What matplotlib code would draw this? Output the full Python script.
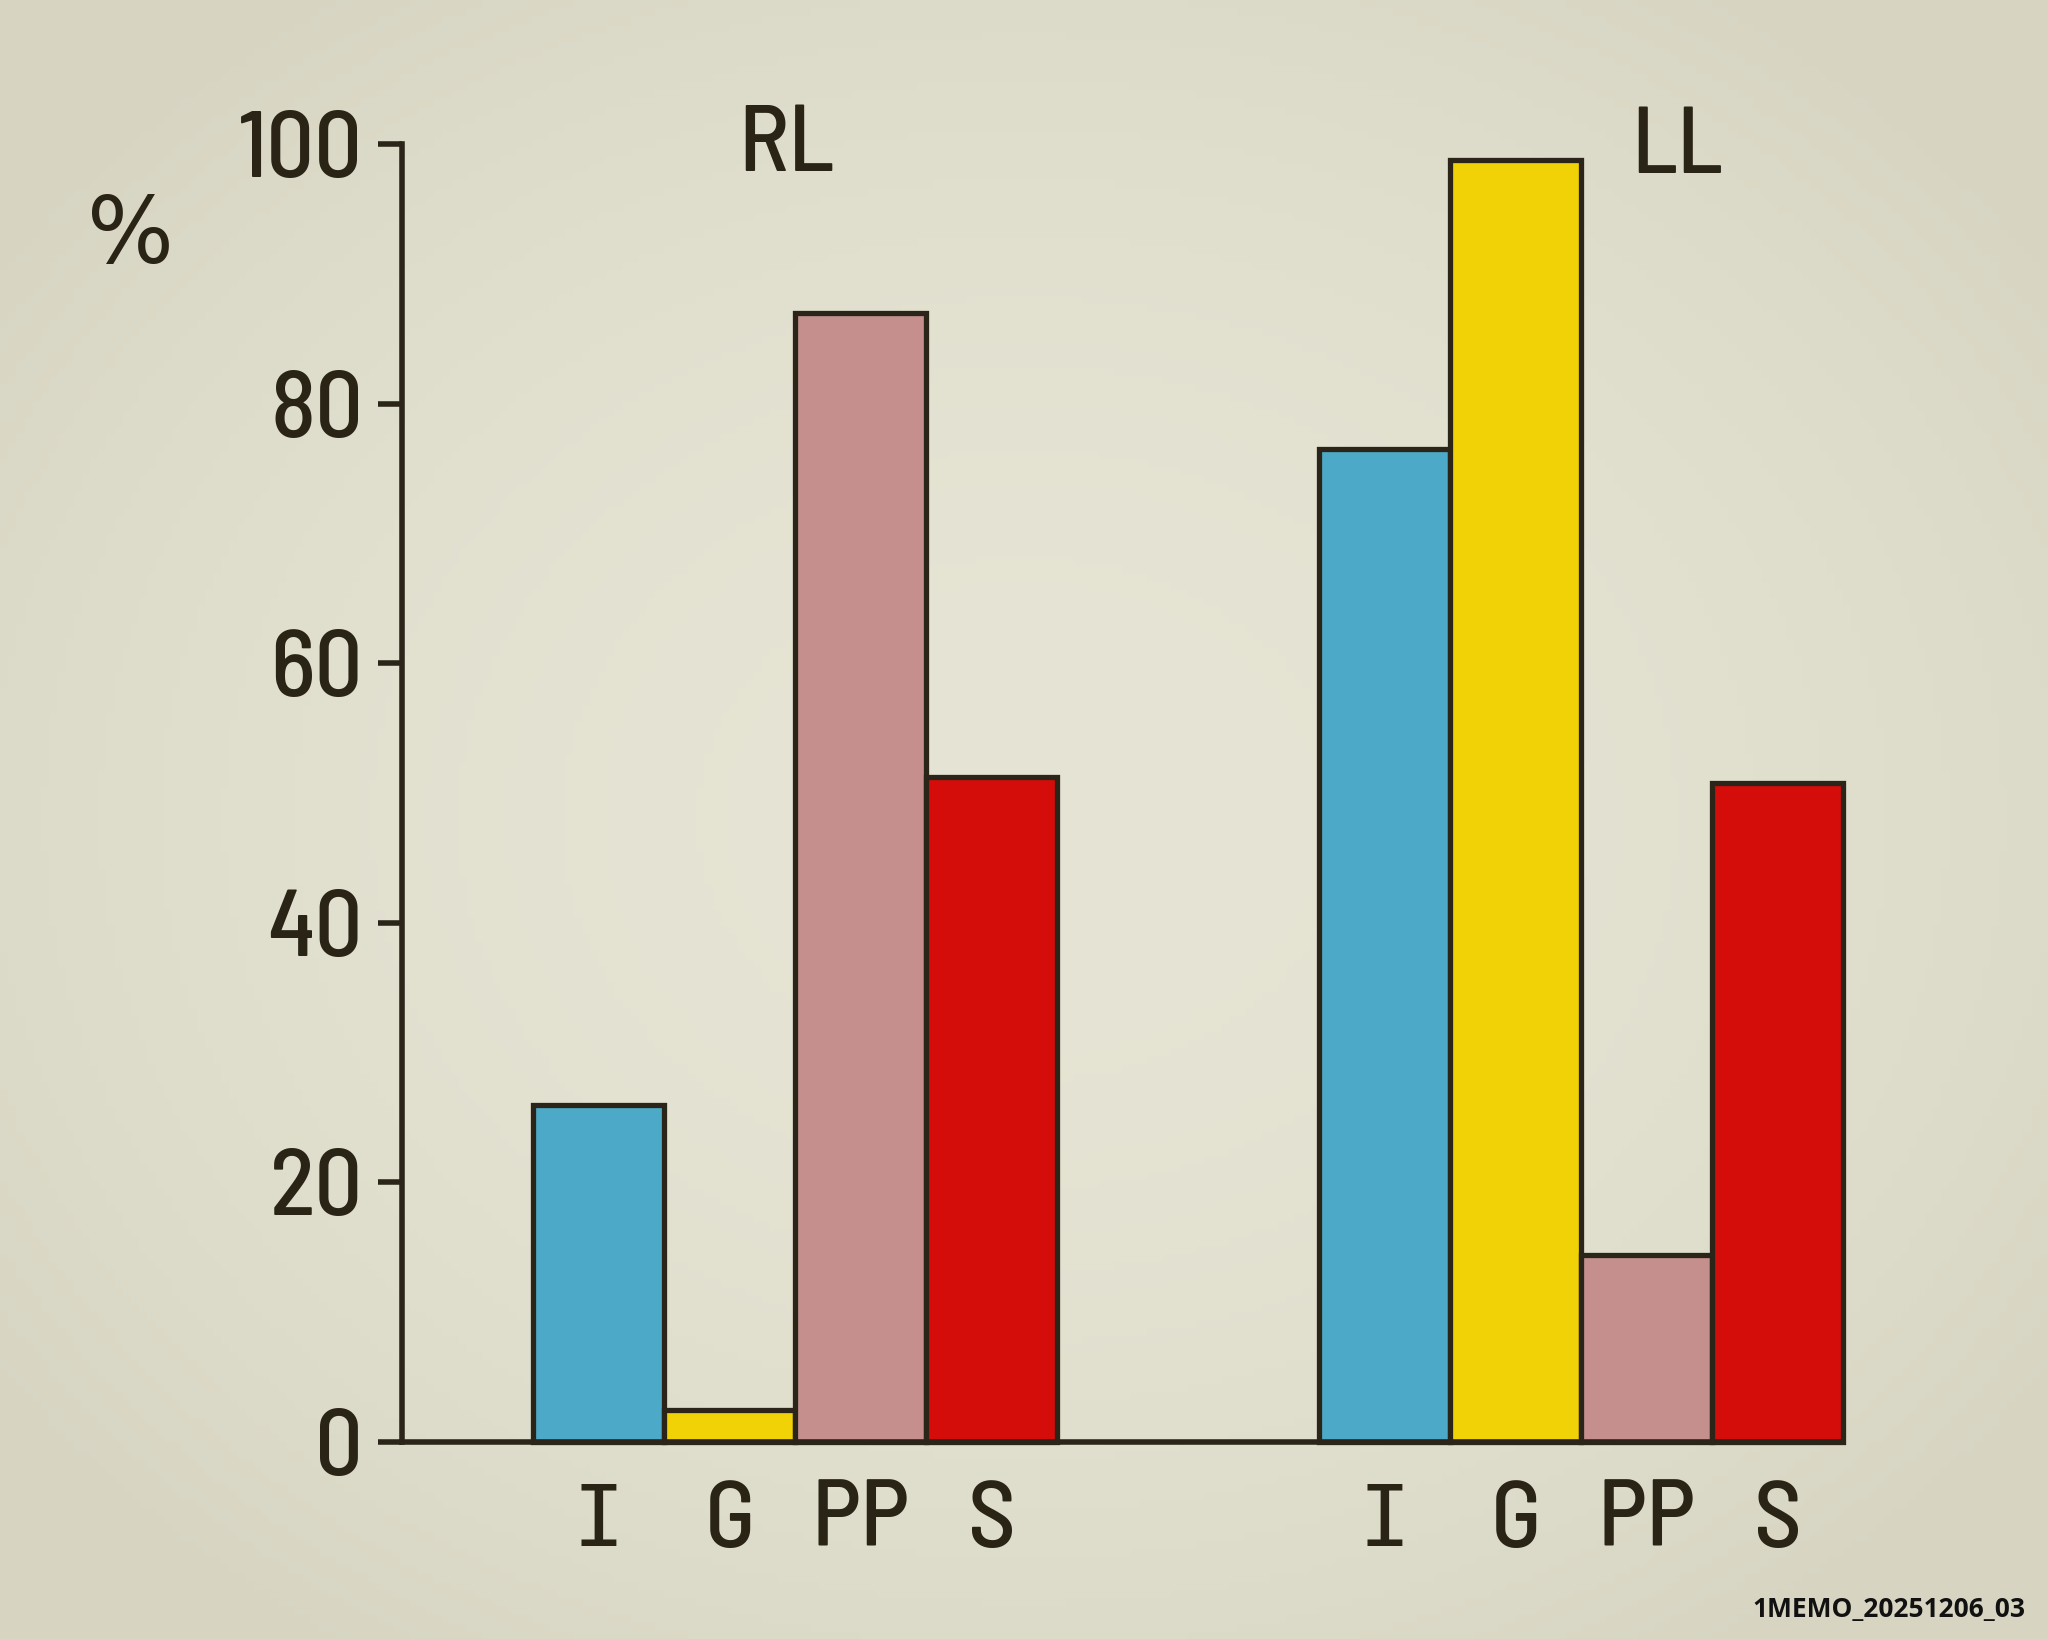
import numpy as np
import matplotlib
matplotlib.use("Agg")
import matplotlib.pyplot as plt
from matplotlib import font_manager

# ---- data ----
categories = ["I", "G", "PP", "S"]
groups = ["RL", "LL"]
rl_values = [26.0, 2.5, 87.0, 51.2]
ll_values = [76.5, 98.8, 14.4, 50.8]
bar_colors = ["#4caac8", "#f0d206", "#c48f8d", "#d40d0b"]
yticks = [0, 20, 40, 60, 80, 100]

# ---- fonts ----
avail = {f.name for f in font_manager.fontManager.ttflist}
def pick(cands):
    for c in cands:
        if c in avail:
            return c
    return "DejaVu Sans"
digit_font = pick(["Barlow Semi Condensed", "Barlow Condensed", "Roboto Condensed",
                   "Archivo Narrow", "Asap Condensed", "Liberation Sans Narrow"])
letter_font = pick(["Barlow Semi Condensed", "Barlow", "Roboto Condensed",
                    "Archivo Narrow"])
serif_I_font = "DejaVu Sans Mono"
ink = "#2a2416"
edge = "#2a2518"
FS = 68
WT = "medium"
W, H = 2048, 1639
fig = plt.figure(figsize=(W / 100, H / 100), dpi=100)

# background with slight vignette (style only)
bg = fig.add_axes([0, 0, 1, 1], zorder=-10)
yy, xx = np.mgrid[0:1:200j, 0:1:250j]
r = np.sqrt(((xx - 0.5) / 0.62) ** 2 + ((yy - 0.5) / 0.62) ** 2)
center = np.array([230, 228, 212]) / 255
outer = np.array([215, 213, 194]) / 255
t = np.clip(r, 0, 1)[..., None] ** 2
img = center * (1 - t) + outer * t
bg.imshow(img, extent=[0, 1, 0, 1], aspect="auto", origin="lower")
bg.set_axis_off()

left = 402 / W
right = 1843 / W
bottom = (H - 1442) / H
top = (H - 144) / H
ax = fig.add_axes([left, bottom, right - left, top - bottom])
ax.patch.set_alpha(0)

# bar positions: one-bar gap before each group, two-bar gap between groups
x_rl = np.arange(len(categories)) + 1.5
x_ll = np.arange(len(categories)) + 7.5
lw = 3.8
ax.bar(x_rl, rl_values, width=1.0, color=bar_colors, edgecolor=edge,
       linewidth=lw, clip_on=False, zorder=3)
ax.bar(x_ll, ll_values, width=1.0, color=bar_colors, edgecolor=edge,
       linewidth=lw, clip_on=False, zorder=3)

ax.set_xlim(0, 11)
ax.set_ylim(0, 100)
for s in ["top", "right"]:
    ax.spines[s].set_visible(False)
for s in ["left", "bottom"]:
    ax.spines[s].set_color(edge)
    ax.spines[s].set_linewidth(4.0)
    ax.spines[s].set_zorder(4)
    ax.spines[s].set_capstyle("projecting")

ax.set_yticks(yticks)
ax.set_yticklabels([str(v) for v in yticks])
ax.tick_params(axis="y", direction="out", length=17, width=4.0, color=edge,
               pad=11, labelsize=FS, labelcolor=ink)
for lab in ax.get_yticklabels():
    lab.set_fontfamily(digit_font)
    lab.set_fontweight(WT)

xt = list(x_rl) + list(x_ll)
ax.set_xticks(xt)
ax.set_xticklabels(categories + categories)
ax.tick_params(axis="x", length=0, pad=28, labelsize=FS, labelcolor=ink)
for lab in ax.get_xticklabels():
    if lab.get_text() == "I":
        lab.set_fontfamily(serif_I_font)
        lab.set_fontsize(FS - 6)
    else:
        lab.set_fontfamily(letter_font)
        lab.set_fontweight(WT)

# group titles
fig.text(786 / W, 1 - 171 / H, groups[0], ha="center", va="baseline",
         fontsize=FS, color=ink, family=letter_font, fontweight=WT)
fig.text(1677 / W, 1 - 173 / H, groups[1], ha="center", va="baseline",
         fontsize=FS, color=ink, family=letter_font, fontweight=WT)

# % label
fig.text(130 / W, 1 - 263 / H, "%", ha="center", va="baseline", fontsize=FS - 2,
         color=ink, family="DejaVu Sans")

# watermark id
fig.text(2025 / W, 1 - 1617 / H, "1MEMO_20251206_03", ha="right",
         va="baseline", fontsize=19, fontweight="bold", color="#111111",
         family="Open Sans")

fig.savefig("out.png", dpi=100)
